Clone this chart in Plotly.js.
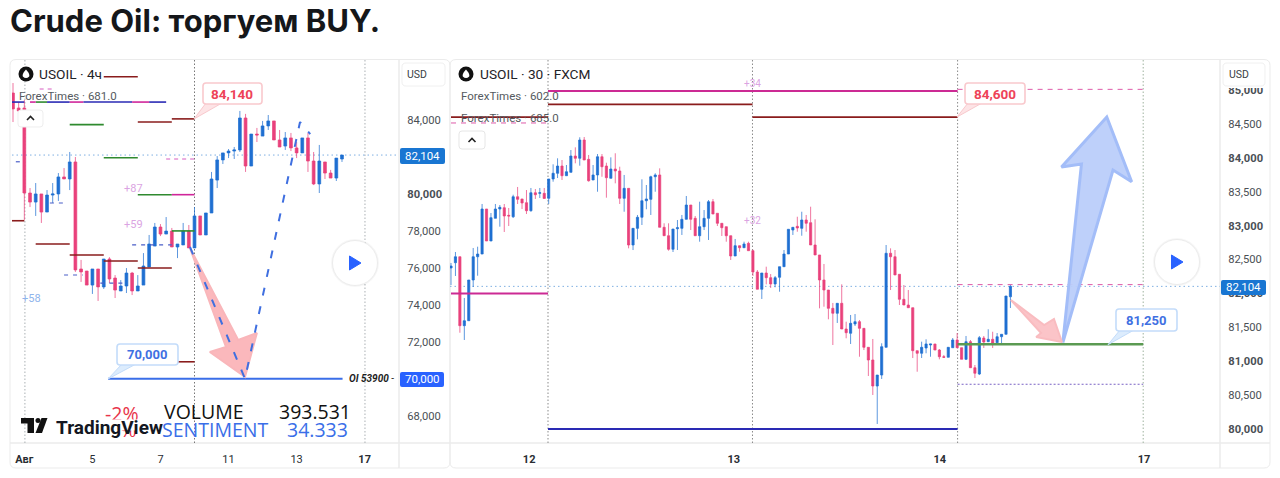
<!DOCTYPE html>
<html><head><meta charset="utf-8">
<script src="https://cdn.plot.ly/plotly-3.0.1.min.js"></script>
<style>html,body{margin:0;padding:0;background:#fff}#c{width:1280px;height:478px}</style></head>
<body><div id="c"></div>
<script>
// ---------- left chart (USOIL 4h) ----------
const leftOpen=[85460,84650,84650,80050,79560,80000,79020,79940,80000,80920,80810,81730,75940,75830,75070,75940,74970,76480,75450,74750,75020,75720,74750,75070,76050,77180,78210,77830,77990,77130,77240,77990,77080,78810,77780,78970,80750,81840,82220,82320,82380,84110,81510,83240,83130,83680,83950,82920,82590,83030,82490,82220,83030,81780,80540,81730,81130,80860,81890];
const leftHigh=[86000,84970,85080,80320,80590,80000,80210,80590,81130,81400,82270,82000,76430,75830,75940,75940,76480,76580,75610,75340,75990,75780,75610,76800,77780,78430,78370,78750,78160,77290,78430,78320,79290,78810,78970,81190,82050,82220,82430,82540,84490,84330,83240,83570,83950,84270,83950,83460,83350,83300,82810,83030,83300,82270,82650,81730,81300,81940,82100];
const leftLow=[83890,84430,78590,79290,78810,78430,79020,79510,79620,80810,80210,75780,75240,75070,74590,74210,74860,75180,74370,74750,74640,74530,74750,75070,76050,77180,77720,77830,77130,76530,77240,77080,77080,77780,77780,78970,80320,81620,81940,81890,82270,81190,81510,82810,83130,83460,82920,82540,82380,82320,81940,82220,81190,80480,80050,80810,80860,80700,81730];
const leftClose=[84600,84490,80050,79560,80000,79020,79940,80000,80920,80810,81730,75890,75780,75070,75940,74970,76480,75400,74800,75020,75720,74750,75020,76100,77290,78210,77830,77990,77130,77290,77990,77080,78810,77780,78970,80810,81840,82220,82320,82380,84110,81510,83240,83190,83680,83950,82920,82540,83030,82490,82220,83030,81780,80540,81780,81130,80860,81940,82104];
const leftPriceTicks=[84000,80000,78000,76000,74000,72000,68000];
const leftPriceLabels=['84,000','<b>80,000</b>','78,000','76,000','74,000','72,000','68,000'];
const leftDateTicks=[2,14,26,38,50,62];
const leftDateLabels=['<b>Авг</b>','5','7','11','13','<b>17</b>'];
const leftSessions=[2.1,32,62.05];
const leftRedStart=[16,22,28,-0.5,4,10,16,22,29];
const leftRedEnd=[22,28,32,2,10,16,22,28,32];
const leftRedPrice=[86343,83892,84060,78550,77290,76700,76370,75990,70920];
const leftGreenStart=[10,16,22,28,4];
const leftGreenEnd=[16,22,28,32,6];
const leftGreenPrice=[83750,81960,79960,78000,84970];
const leftMagentaStart=[28,3,10,21];
const leftMagentaEnd=[32,4,12.4,24];
const leftMagentaPrice=[79960,84970,84970,84970];
const leftNavyStart=[-0.5,6,12.4,24];
const leftNavyEnd=[2,10,21,27];
const leftNavyPrice=[84970,84970,84970,84970];
const leftPinkDashStart=[4.7,27];
const leftPinkDashEnd=[7.5,32];
const leftPinkDashPrice=[85677,81890];
const leftBlueDashStart=[21,0.5,9,15.4,6.5];
const leftBlueDashEnd=[28,1.3,12.3,19.8,9];
const leftBlueDashPrice=[77240,81740,75615,75180,79510];
const targetLevelStart=[16.75];
const targetLevelEnd=[58.1];
const targetLevelPrice=[70000];
const leftPathIndex=[31.2,40.9,50.6,52.4];
const leftPathPrice=[77130,70000,83890,83240];
const leftArrowIndex=[31.2,39.7,43,40.9,34.7,37.55,31.2];
const leftArrowPrice=[77075,72100,72477,70100,71450,71720,77075];

// ---------- right chart (USOIL 30m) ----------
const rightOpen=[82375,82453,82541,81524,81597,82198,82541,82581,83245,82773,83108,83245,83264,83152,83131,83426,83393,83338,83220,83485,83476,83476,83403,83688,83772,83879,83736,83786,84027,83993,84263,83978,83673,83747,84016,83879,83698,83835,83806,83403,83550,82714,82960,83123,83367,83388,83721,83747,82975,82851,82651,82954,82960,83093,83304,83108,82851,82984,83108,83353,83182,83034,82984,82851,82552,82704,82674,82739,82630,82316,82061,82301,82232,82139,82238,82394,82581,82935,82990,82960,83083,83043,82714,82567,82198,82050,81780,81707,81854,81475,81412,81549,81583,81485,81205,81018,80634,80796,81205,82592,82541,82282,81913,81829,81789,81155,81117,81195,81239,81254,81165,81066,81058,81199,81313,81199,81028,81288,80904,80811,81342,81288,81323,81273,81361,81397,81951];
const rightHigh=[82449,82611,82541,81932,82198,82670,82689,83319,83245,83186,83319,83304,83319,83260,83456,83570,83393,83525,83555,83540,83555,83555,83688,83904,83993,83968,83894,84115,84155,84303,84307,84042,83894,84056,84056,83928,84007,84067,83869,83747,83550,82960,83157,83683,83599,83736,83772,83845,83034,83034,82950,83083,83157,83437,83304,83142,83353,83230,83378,83393,83182,83034,82984,82851,82803,82704,82763,82763,82645,82345,82301,82394,82286,82257,82394,82640,82946,82975,83131,83205,83157,83279,83093,82567,82434,82050,81859,81854,82134,81583,81682,81696,81608,81485,81205,81328,80796,81264,82714,82665,82640,82282,82124,82050,81789,81155,81288,81323,81254,81254,81180,81092,81205,81342,81416,81199,81372,81313,80944,81372,81372,81471,81435,81416,81397,81962,82124];
const rightLow=[82124,82257,81420,81313,81597,82095,82261,82581,82773,82773,83108,82984,82906,82994,83112,83319,83245,83171,83205,83393,83407,83400,83319,83648,83702,83673,83736,83786,83919,83884,83968,83648,83673,83500,83721,83412,83698,83624,83319,83205,82665,82640,82798,83009,83241,83157,83500,82975,82851,82630,82611,82640,82862,83093,82935,82851,82763,82935,82788,83171,82994,82847,82763,82493,82552,82615,82674,82630,82257,82061,81918,82134,82080,82090,82025,82394,82581,82862,82910,82851,82910,82714,82567,81780,81804,81618,81239,81564,81475,81338,81254,81519,81066,81165,80782,80502,80074,80738,81205,82050,82272,81829,81829,81789,81047,80845,81047,81117,81066,81165,81028,81047,81058,81199,81199,81028,81018,80900,80752,80796,81195,81283,81195,81268,81254,81397,81785];
const rightClose=[82404,82541,81524,81597,82198,82541,82581,83245,82773,83117,83245,83270,83142,83142,83426,83388,83334,83220,83485,83456,83485,83400,83688,83772,83879,83736,83795,84027,83993,84263,83968,83662,83747,84016,83869,83707,83835,83806,83403,83550,82714,82960,83123,83367,83393,83721,83747,82975,82851,82651,82950,82969,83093,83304,83093,82851,82984,83108,83353,83171,83034,82969,82851,82552,82704,82674,82729,82630,82316,82061,82301,82232,82139,82232,82394,82581,82946,82975,82965,83083,83034,82714,82567,82198,82050,81780,81707,81854,81475,81420,81559,81583,81485,81205,81018,80634,80796,81214,82592,82541,82272,81913,81829,81789,81155,81117,81205,81254,81254,81165,81066,81058,81205,81313,81199,81028,81288,80904,80822,81347,81283,81323,81264,81361,81397,81962,82104];
const rightPriceTicks=[85000,84500,84000,83500,83000,82500,82000,81500,81000,80500,80000];
const rightPriceLabels=['<b>85,000</b>','84,500','<b>84,000</b>','83,500','<b>83,000</b>','82,500','<b>82,000</b>','81,500','<b>81,000</b>','80,500','<b>80,000</b>'];
const rightDateTicks=[17.6,63.7,110.1,156.1];
const rightDateLabels=['<b>12</b>','<b>13</b>','<b>14</b>','<b>17</b>'];
const rightSessions=[21.85,67.9,114.1];
const rightEndSession=[155.9];
const rightRedStart=[21.85,67.9,0];
const rightRedEnd=[67.9,114.1,21.85];
const rightRedPrice=[84789,84600,84600];
const rightMagentaStart=[21.85,0];
const rightMagentaEnd=[114.1,21.85];
const rightMagentaPrice=[84986,82000];
const rightNavyStart=[21.85];
const rightNavyEnd=[114.1];
const rightNavyPrice=[80000];
const rightGreenStart=[114.1];
const rightGreenEnd=[155.9];
const rightGreenPrice=[81250];
const rightPinkDashStart=[114.1,0,114.1];
const rightPinkDashEnd=[155.9,21.85,155.9];
const rightPinkDashPrice=[85010,84514,82130];
const rightPurpleStart=[114.1];
const rightPurpleEnd=[155.9];
const rightPurplePrice=[80660];
const upArrowIndex=[137.8,149.1,153.3,147.7,137.5,142,137.8];
const upArrowPrice=[81273,83820,83648,84602,83865,83909,81273];
const downArrowIndex=[126.1,133.6,135.8,137.6,131.8,132.9,126.1];
const downArrowPrice=[81903,81534,81622,81283,81357,81416,81903];
const lastPrice=82104;

// ---------- helpers ----------
const W=1280,H=478;
const BLUE='#1f6fd1',PINK='#e9417c',RED='#8a1c1c',GREEN='#2f8a2f',MAG='#d0259a',NAVY='#2a2ab4';
const fx=x=>(x/W).toFixed(5), fy=y=>(1-y/H).toFixed(5);
const poly=pts=>'M'+pts.map(p=>fx(p[0])+' '+fy(p[1])).join(' L')+' Z';
const rr=(x0,y0,x1,y1,r)=>`M${fx(x0+r)} ${fy(y0)} L${fx(x1-r)} ${fy(y0)} Q${fx(x1)} ${fy(y0)} ${fx(x1)} ${fy(y0+r)} L${fx(x1)} ${fy(y1-r)} Q${fx(x1)} ${fy(y1)} ${fx(x1-r)} ${fy(y1)} L${fx(x0+r)} ${fy(y1)} Q${fx(x0)} ${fy(y1)} ${fx(x0)} ${fy(y1-r)} L${fx(x0)} ${fy(y0+r)} Q${fx(x0)} ${fy(y0)} ${fx(x0+r)} ${fy(y0)} Z`;
const pshape=(path,fill,line,lw,layer)=>({type:'path',xref:'paper',yref:'paper',path,fillcolor:fill,line:{color:line,width:lw===undefined?1:lw},layer:layer||'above'});
const candles=(x,o,h,l,c,xa,ya)=>({type:'candlestick',x,open:o,high:h,low:l,close:c,xaxis:xa,yaxis:ya,hoverinfo:'skip',whiskerwidth:0,showlegend:false,
  increasing:{line:{color:'rgba(31,111,209,.72)',width:1},fillcolor:BLUE},
  decreasing:{line:{color:'rgba(233,65,124,.72)',width:1},fillcolor:PINK}});
function segs(s,e,p,color,width,dash,xa,ya){const x=[],y=[];s.forEach((v,i)=>{x.push(v,e[i],null);y.push(p[i],p[i],null);});
  return {type:'scatter',mode:'lines',x,y,xaxis:xa,yaxis:ya,hoverinfo:'skip',showlegend:false,line:{color,width,dash:dash||'solid'}};}
const area=(x,y,fill,line,lw,xa,ya)=>({type:'scatter',mode:'lines',x,y,xaxis:xa,yaxis:ya,fill:'toself',fillcolor:fill,hoverinfo:'skip',showlegend:false,line:{color:line,width:lw}});
const idx=a=>a.map((_,i)=>i);

const traces=[
 candles(idx(leftOpen),leftOpen,leftHigh,leftLow,leftClose,'x','y'),
 segs(leftRedStart,leftRedEnd,leftRedPrice,RED,1.6,null,'x','y'),
 segs(leftGreenStart,leftGreenEnd,leftGreenPrice,GREEN,1.6,null,'x','y'),
 segs(leftNavyStart,leftNavyEnd,leftNavyPrice,NAVY,1.6,null,'x','y'),
 segs(leftMagentaStart,leftMagentaEnd,leftMagentaPrice,MAG,1.6,null,'x','y'),
 segs(leftPinkDashStart,leftPinkDashEnd,leftPinkDashPrice,'#d65cc0',1,'4px,4px','x','y'),
 segs(leftBlueDashStart,leftBlueDashEnd,leftBlueDashPrice,'#4a5ec8',1.2,'4px,5px','x','y'),
 segs(targetLevelStart,targetLevelEnd,targetLevelPrice,'#3a6ee8',2,null,'x','y'),
 area(leftArrowIndex,leftArrowPrice,'rgba(250,172,176,.85)','#f9b6ba',2,'x','y'),
 {type:'scatter',mode:'lines',x:leftPathIndex,y:leftPathPrice,xaxis:'x',yaxis:'y',hoverinfo:'skip',showlegend:false,line:{color:'#3f6fe0',width:2,dash:'8px,11px'}},
 candles(idx(rightOpen),rightOpen,rightHigh,rightLow,rightClose,'x2','y2'),
 segs(rightRedStart,rightRedEnd,rightRedPrice,RED,1.8,null,'x2','y2'),
 segs(rightMagentaStart,rightMagentaEnd,rightMagentaPrice,'#cc2a94',2,null,'x2','y2'),
 segs(rightNavyStart,rightNavyEnd,rightNavyPrice,NAVY,2,null,'x2','y2'),
 segs(rightGreenStart,rightGreenEnd,rightGreenPrice,'#5b9a52',2.6,null,'x2','y2'),
 segs(rightPinkDashStart,rightPinkDashEnd,rightPinkDashPrice,'#de5aa8',1,'5px,5px','x2','y2'),
 segs(rightPurpleStart,rightPurpleEnd,rightPurplePrice,'#7a62c4',1,'2px,2px','x2','y2'),
 area(upArrowIndex,upArrowPrice,'rgba(186,206,250,.95)','#a3bdf8',3,'x2','y2'),
 area(downArrowIndex,downArrowPrice,'rgba(250,186,190,.85)','#f9bcc0',2,'x2','y2'),
];

const vline=(x,xr,color)=>({type:'line',xref:xr,yref:xr==='x'?'y domain':'y2 domain',x0:x,x1:x,y0:0,y1:1,line:{color,width:1,dash:'1.5px,2px'},layer:'below'});
const hline=(v,xr,yr)=>({type:'line',xref:xr+' domain',yref:yr,x0:0,x1:1,y0:v,y1:v,line:{color:'#7fb0e2',width:1,dash:'1.5px,3px'},layer:'below'});
const logo=(cx,cy)=>[
 {type:'circle',xref:'paper',yref:'paper',x0:fx(cx-7.5),x1:fx(cx+7.5),y0:fy(cy+7.5),y1:fy(cy-7.5),fillcolor:'#111',line:{width:0}},
 pshape(`M${fx(cx)} ${fy(cy-4.6)} Q${fx(cx+4.2)} ${fy(cy)} ${fx(cx+3.2)} ${fy(cy+2.6)} Q${fx(cx)} ${fy(cy+5.6)} ${fx(cx-3.2)} ${fy(cy+2.6)} Q${fx(cx-4.2)} ${fy(cy)} ${fx(cx)} ${fy(cy-4.6)} Z`,'#fff','#fff',0)];
const callout=(x0,y0,x1,y1,tx,ty,t0,t1,fillT,line)=>[
 pshape(poly([[t0,y1-1],[tx,ty],[t1,y1-1]]),fillT,line,1),
 pshape(rr(x0,y0,x1,y1,3),'#fff',line,1.6)];
const play=(cx,cy)=>[
 {type:'circle',xref:'paper',yref:'paper',x0:fx(cx-24),x1:fx(cx+24),y0:fy(cy+24),y1:fy(cy-24),fillcolor:'rgba(0,0,0,.035)',line:{width:0}},
 {type:'circle',xref:'paper',yref:'paper',x0:fx(cx-22.5),x1:fx(cx+22.5),y0:fy(cy+22.5),y1:fy(cy-22.5),fillcolor:'#fff',line:{color:'#ececec',width:1}},
 pshape(poly([[cx-5.5,cy-7],[cx+6,cy],[cx-5.5,cy+7]]),'#2962ff','#2962ff',1)];
const chevron=(cx,cy)=>({type:'path',xref:'paper',yref:'paper',path:`M${fx(cx-3.5)} ${fy(cy+2)} L${fx(cx)} ${fy(cy-1.5)} L${fx(cx+3.5)} ${fy(cy+2)}`,line:{color:'#222',width:1.6}});

const shapes=[
 pshape(rr(10,59.5,450,468,6),'rgba(0,0,0,0)','#ebebeb',1,'below'),
 pshape(rr(450,59.5,1270,468,6),'rgba(0,0,0,0)','#ebebeb',1,'below'),
 pshape(poly([[399,60],[399,468]]),'rgba(0,0,0,0)','#ebebeb',1,'below'),
 pshape(poly([[1220,60],[1220,468]]),'rgba(0,0,0,0)','#ebebeb',1,'below'),
 pshape(poly([[10,443],[450,443]]),'rgba(0,0,0,0)','#ebebeb',1,'below'),
 pshape(poly([[450,443],[1270,443]]),'rgba(0,0,0,0)','#ebebeb',1,'below'),
 ...leftSessions.map((v,i)=>vline(v,'x',i===1?'#777':'#aab0b4')),
 ...rightSessions.map(v=>vline(v,'x2','#8a8a8a')),
 ...rightEndSession.map(v=>vline(v,'x2','#9fb39f')),
 hline(lastPrice,'x','y'), hline(lastPrice,'x2','y2'),
 ...logo(26,74), ...logo(466,74),
 pshape(rr(18,110,43,127,3),'#fff','#eeeeee',1), chevron(30.5,118),
 pshape(rr(459,131,485,149,3),'#fff','#e6e6e6',1), chevron(472,140),
 ...callout(203,83,262,104,194,119,206,222,'#fde4e6','#f9c9cd'),
 ...callout(117,344,178,365,108,379,122,136,'#dcecfd','#c3dcfa'),
 ...callout(965,83,1025,104,957,117,968,982,'#fde4e6','#f9c9cd'),
 ...callout(1116,309,1177,331,1108,344.7,1120,1134,'#dcecfd','#c3dcfa'),
 ...play(355,263), ...play(1177,262),
 pshape(rr(1221,61,1268,88,0),'#fff','#fff',0),
 pshape(rr(402,63,445,86,4),'#fff','#f0f0f0',1),
 pshape(rr(1223,63,1265,86,4),'#fff','#f0f0f0',1),
 pshape(rr(400,148,445,164,2),'#1976d2','#1976d2',0),
 pshape(rr(400,372,444,387,2),'#2962ff','#2962ff',0),
 pshape(rr(1221,280,1266,295,2),'#1976d2','#1976d2',0),
 // TradingView mark
 pshape(poly([[21,418],[34,418],[34,433],[27.5,433],[27.5,423.5],[21,423.5]]),'#111','#111',0),
 {type:'circle',xref:'paper',yref:'paper',x0:fx(35.5),x1:fx(40.5),y0:fy(423),y1:fy(418),fillcolor:'#111',line:{width:0}},
 pshape(poly([[41.5,418],[47.5,418],[42,433],[35.5,433]]),'#111','#111',0),
];

const SANS='Roboto, sans-serif', OPEN='"Open Sans",sans-serif';
const txt=(x,y,text,size,color,anchor,extra)=>Object.assign({xref:'paper',yref:'paper',x:+fx(x),y:+fy(y),text,showarrow:false,xanchor:anchor||'left',yanchor:'middle',
  font:{family:SANS,size,color},borderpad:0},extra||{});
const big=(x,y,text,size,color,anchor)=>txt(x,y,text,size,color,anchor,{font:{family:OPEN,size,color}});
const annotations=[
 txt(38,74,'USOIL · 4ч',13.7,'#1f2328'),
 txt(18,96,'ForexTimes · 681.0',11.5,'#555a60'),
 txt(479,74,'USOIL · 30 · FXCM',13.7,'#1f2328'),
 txt(460,96,'ForexTimes · 602.0',11.5,'#555a60'),
 txt(460,118,'ForexTimes · 685.0',11.5,'#555a60'),
 txt(232.5,93.5,'<b>84,140</b>',13.5,'#ee4358','center'),
 txt(147.5,354.5,'<b>70,000</b>',13,'#3f70e2','center'),
 txt(995,93.5,'<b>84,600</b>',13.5,'#ee4358','center'),
 txt(1146.5,320,'<b>81,250</b>',13,'#3f70e2','center'),
 txt(133,188,'+87',11,'#dba4e2','center'),
 txt(133,225,'+59',11,'#dba4e2','center'),
 txt(31,299,'+58',11,'#8fb4ec','center'),
 txt(752,84,'+34',10,'#dba4e2','center'),
 txt(752,220.5,'+32',10,'#dba4e2','center'),
 txt(348,378.5,'<b><i>OI 53900</i></b> -',10,'#1d1d1d'),
 txt(422.5,156,'82,104',11.5,'#fff','center'),
 txt(422,379.5,'70,000',11.5,'#fff','center'),
 txt(1243.5,287.5,'82,104',11.5,'#fff','center'),
 txt(406,75,'USD',10.5,'#3a3f45'),
 txt(1228,75,'USD',10.5,'#3a3f45'),
 big(122.5,413,'-2%',19.5,'#e8344a','center'),
 big(128,429,'%',20,'#e8344a','center'),
 {xref:'paper',yref:'paper',x:+fx(122),y:+fy(424.5),text:' ',showarrow:false,xanchor:'center',yanchor:'middle',width:36,height:10,bgcolor:'#fff',borderpad:0},
 txt(55,427,'<b>TradingView</b>',19,'#131722'),
 big(163,412,'VOLUME',19.5,'#111'),
 big(352,412,'393.531',19.5,'#111','right'),
 big(161,430,'SENTIMENT',19.5,'#3a6ee8'),
 big(349,430,'34.333',19.5,'#3a6ee8','right'),
];

const yDom=[1-443/H,1-60/H];
const xBase={showgrid:false,zeroline:false,showline:false,tickmode:'array',ticks:'outside',ticklen:6,tickcolor:'rgba(0,0,0,0)',tickfont:{family:SANS,size:11,color:'#2a2e33'},rangeslider:{visible:false},fixedrange:true};
const yBase={showgrid:false,zeroline:false,showline:false,tickmode:'array',side:'right',ticks:'outside',ticklen:5,tickcolor:'rgba(0,0,0,0)',tickfont:{family:SANS,size:11.2,color:'#4a4f55'},domain:yDom,fixedrange:true};
const layout={
 width:W,height:H,autosize:false,margin:{l:0,r:0,t:0,b:0},paper_bgcolor:'#fff',plot_bgcolor:'rgba(0,0,0,0)',showlegend:false,dragmode:false,hovermode:false,
 title:{text:'<b>Crude Oil: торгуем BUY.</b>',x:10/W,xanchor:'left',y:1-21/H,yanchor:'middle',font:{family:'Inter, sans-serif',size:31,color:'#15171a'}},
 xaxis:Object.assign({},xBase,{domain:[12/W,399/W],range:[-0.176,68.05],tickvals:leftDateTicks,ticktext:leftDateLabels,anchor:'y'}),
 yaxis:Object.assign({},yBase,{range:[66526,87246],tickvals:leftPriceTicks,ticktext:leftPriceLabels,anchor:'x'}),
 xaxis2:Object.assign({},xBase,{domain:[450/W,1220/W],range:[-0.225,173.2],tickvals:rightDateTicks,ticktext:rightDateLabels,anchor:'y2'}),
 yaxis2:Object.assign({},yBase,{range:[79793.5,85443],tickvals:rightPriceTicks,ticktext:rightPriceLabels,anchor:'x2'}),
 shapes,annotations
};
Plotly.newPlot('c',traces,layout,{staticPlot:true,displayModeBar:false});
</script></body></html>
